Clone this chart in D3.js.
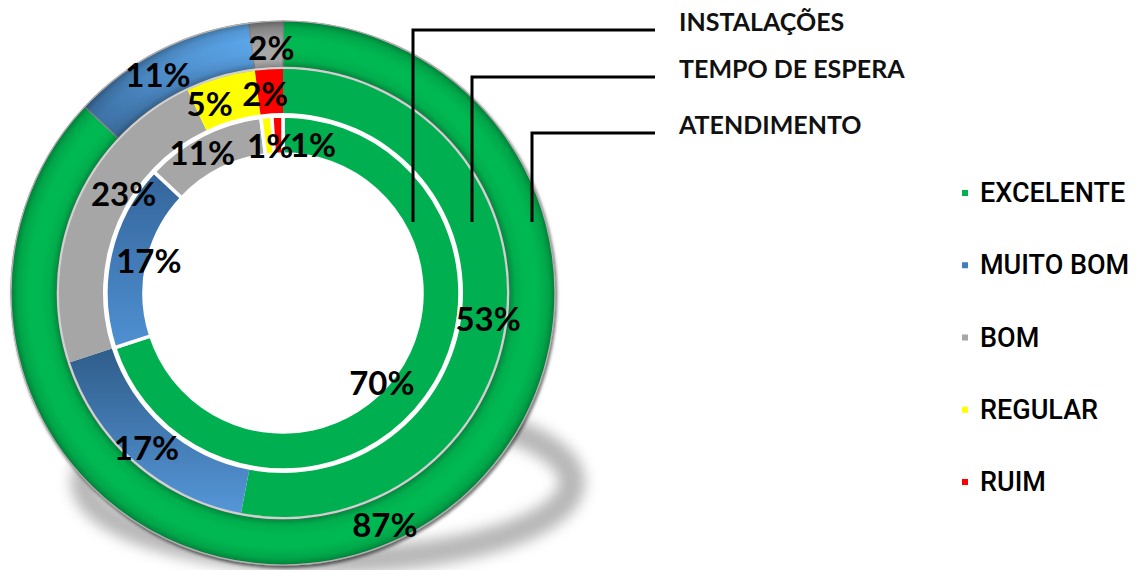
<!DOCTYPE html>
<html>
<head>
<meta charset="utf-8">
<script src="https://cdn.jsdelivr.net/npm/d3@7/dist/d3.min.js"></script>
<style>
  html, body { margin: 0; padding: 0; background: #fff; }
  svg { display: block; }
</style>
</head>
<body>
<svg id="chart" width="1141" height="570"></svg>
<script>
// Satisfaction survey: three rings, one per topic (inner -> outer)
const categories = ["EXCELENTE", "MUITO BOM", "BOM", "REGULAR", "RUIM"];
const seriesNames = ["INSTALAÇÕES", "TEMPO DE ESPERA", "ATENDIMENTO"];
const instalacoes = [70, 17, 11, 1, 1];
const tempoDeEspera = [53, 17, 23, 5, 2];
const atendimento = [87, 11, 2, 0, 0];
const categoryColors = ["#00B050", "#4A86C5", "#A6A6A6", "#FFFF00", "#FF0000"];

// Layout
const W = 1141, H = 570;
const cx = 283, cy = 293;
const rings = [
  { name: seriesNames[0], values: instalacoes, r0: 139, r1: 177 },
  { name: seriesNames[1], values: tempoDeEspera, r0: 180, r1: 224 },
  { name: seriesNames[2], values: atendimento, r0: 226, r1: 272 }
];
// label nudges from the arc centroid, per ring and category
const labelNudge = [
  [[-29, -4], [20, 1], [-9, 0], [2, 9], [35, 9]],
  [[4, 6], [-3, 2], [26, -20], [-17, 4], [-5, 2]],
  [[3, 2], [-12, 3], [4, 2], [0, 0], [0, 0]]
];
// callout anchors for the ring titles
const callouts = [
  { x: 413, y: 30 },
  { x: 472, y: 77 },
  { x: 532, y: 133 }
];

const svg = d3.select("#chart");
const defs = svg.append("defs");

// soft ground shadow, kept outside the ring footprint
const blur = defs.append("filter").attr("id", "groundBlur")
  .attr("x", "-20%").attr("y", "-50%").attr("width", "140%").attr("height", "200%");
blur.append("feGaussianBlur").attr("stdDeviation", 7);
const shadowMask = defs.append("mask").attr("id", "outsideRing")
  .attr("maskUnits", "userSpaceOnUse").attr("x", 0).attr("y", 0).attr("width", W).attr("height", H);
shadowMask.append("rect").attr("width", W).attr("height", H).attr("fill", "#fff");
shadowMask.append("circle").attr("cx", cx).attr("cy", cy).attr("r", 268).attr("fill", "#000");

const drop = defs.append("filter").attr("id", "rimShadow")
  .attr("x", "-10%").attr("y", "-10%").attr("width", "120%").attr("height", "120%");
drop.append("feDropShadow").attr("dx", 1.5).attr("dy", 2.5)
  .attr("stdDeviation", 1.5).attr("flood-color", "#000").attr("flood-opacity", 0.55);

// blue gradients (dark to light), one per ring
function linGrad(id, x1, y1, x2, y2, c1, c2) {
  const gr = defs.append("linearGradient").attr("id", id)
    .attr("x1", x1).attr("y1", y1).attr("x2", x2).attr("y2", y2);
  gr.append("stop").attr("offset", "0%").attr("stop-color", c1);
  gr.append("stop").attr("offset", "100%").attr("stop-color", c2);
}
linGrad("blueInner", 0, 0, 0, 1, "#34659A", "#4F90D2");
linGrad("blueMiddle", 0, 0, 0, 1, "#2F5D8A", "#5596D8");
linGrad("blueOuter", 0.8, 0, 0.1, 1, "#5CA7EB", "#3A6C9E");
linGrad("grayOuter", 0, 0, 0, 1, "#8C8C8C", "#B8B8B8");

// bevel shading across the outer ring (group space is centred on the chart)
const bevel = defs.append("radialGradient").attr("id", "bevel")
  .attr("gradientUnits", "userSpaceOnUse")
  .attr("cx", 0).attr("cy", 0).attr("r", rings[2].r1);
[[226 / 272, 0.26], [0.855, 0.06], [0.89, 0], [0.935, 0], [0.975, 0.1], [1, 0.3]]
  .forEach(([o, a]) => bevel.append("stop").attr("offset", o)
    .attr("stop-color", "#000").attr("stop-opacity", a));

function fillFor(ringIndex, catIndex) {
  if (catIndex === 1) return ["url(#blueInner)", "url(#blueMiddle)", "url(#blueOuter)"][ringIndex];
  if (catIndex === 2 && ringIndex === 2) return "url(#grayOuter)";
  if (catIndex === 0 && ringIndex === 2) return "#00B851";
  return categoryColors[catIndex];
}

// ground shadow
svg.append("g").attr("mask", "url(#outsideRing)")
  .append("ellipse")
  .attr("cx", 328).attr("cy", 482).attr("rx", 244).attr("ry", 78)
  .attr("fill", "none").attr("stroke", "#999").attr("stroke-width", 26)
  .attr("opacity", 0.7).attr("filter", "url(#groundBlur)");

const g = svg.append("g").attr("transform", `translate(${cx},${cy})`);
const pie = d3.pie().sort(null).value(d => d).startAngle(0).endAngle(2 * Math.PI);

// outer ring (with rim shadow and bevel)
const outerRing = rings[2];
const outerG = g.append("g").attr("filter", "url(#rimShadow)");
const arcOuter = d3.arc().innerRadius(outerRing.r0).outerRadius(outerRing.r1);
outerG.selectAll("path.seg")
  .data(pie(outerRing.values).filter(d => d.value > 0))
  .join("path").attr("class", "seg")
  .attr("d", arcOuter)
  .attr("fill", d => fillFor(2, d.index))
  .attr("stroke", "#8a8a8a").attr("stroke-width", 1.2);
g.append("path")
  .attr("d", d3.arc().innerRadius(outerRing.r0).outerRadius(outerRing.r1)
    .startAngle(0).endAngle(2 * Math.PI)())
  .attr("fill", "url(#bevel)").attr("pointer-events", "none");
g.append("circle").attr("r", outerRing.r1).attr("fill", "none")
  .attr("stroke", "#b4b4b4").attr("stroke-width", 1.2);

// middle ring
const midRing = rings[1];
g.append("circle").attr("r", (midRing.r1 + outerRing.r0) / 2)
  .attr("fill", "none").attr("stroke", "#d0d0d0").attr("stroke-width", 2.5);
const arcMid = d3.arc().innerRadius(midRing.r0).outerRadius(midRing.r1);
g.selectAll("path.mid")
  .data(pie(midRing.values).filter(d => d.value > 0))
  .join("path").attr("class", "mid")
  .attr("d", arcMid)
  .attr("fill", d => fillFor(1, d.index));

// inner ring with white separators
const innRing = rings[0];
const arcInn = d3.arc().innerRadius(innRing.r0).outerRadius(innRing.r1);
g.selectAll("path.inn")
  .data(pie(innRing.values).filter(d => d.value > 0))
  .join("path").attr("class", "inn")
  .attr("d", arcInn)
  .attr("fill", d => fillFor(0, d.index))
  .attr("stroke", "#fff").attr("stroke-width", 3.5).attr("stroke-linejoin", "miter");

// value labels
rings.forEach((ring, ri) => {
  const arcMidR = d3.arc().innerRadius(ring.r0).outerRadius(ring.r1);
  g.selectAll(null)
    .data(pie(ring.values).filter(d => d.value > 0))
    .join("text")
    .attr("x", d => arcMidR.centroid(d)[0] + labelNudge[ri][d.index][0])
    .attr("y", d => arcMidR.centroid(d)[1] + labelNudge[ri][d.index][1])
    .attr("text-anchor", "middle").attr("dominant-baseline", "central")
    .attr("font-family", "Lato, 'Open Sans', sans-serif")
    .attr("font-weight", 700).attr("font-size", 33)
    .attr("fill", "#000")
    .text(d => d.value + "%");
});

// ring titles with elbow callouts
const calloutBottom = 222, calloutEnd = 655, titleX = 679;
rings.forEach((ring, ri) => {
  const c = callouts[ri];
  svg.append("path")
    .attr("d", `M${c.x},${calloutBottom}V${c.y}H${calloutEnd}`)
    .attr("fill", "none").attr("stroke", "#000").attr("stroke-width", 3);
  svg.append("text")
    .attr("x", titleX).attr("y", c.y + 1)
    .attr("font-family", "Lato, sans-serif").attr("font-weight", 700)
    .attr("font-size", 25).attr("fill", "#111")
    .text(ring.name);
});

// legend
const legendY = d3.scalePoint().domain(categories).range([193, 482]);
const legend = svg.append("g");
categories.forEach((cat, i) => {
  const y = legendY(cat);
  legend.append("rect")
    .attr("x", 962).attr("y", y - 3).attr("width", 6).attr("height", 6)
    .attr("fill", i === 1 ? "#3F7FBF" : categoryColors[i]);
  legend.append("text")
    .attr("x", 980).attr("y", y).attr("dominant-baseline", "central")
    .attr("font-family", "Roboto, sans-serif").attr("font-weight", 500)
    .attr("font-size", 27).attr("fill", "#000").text(cat);
});
</script>
</body>
</html>
